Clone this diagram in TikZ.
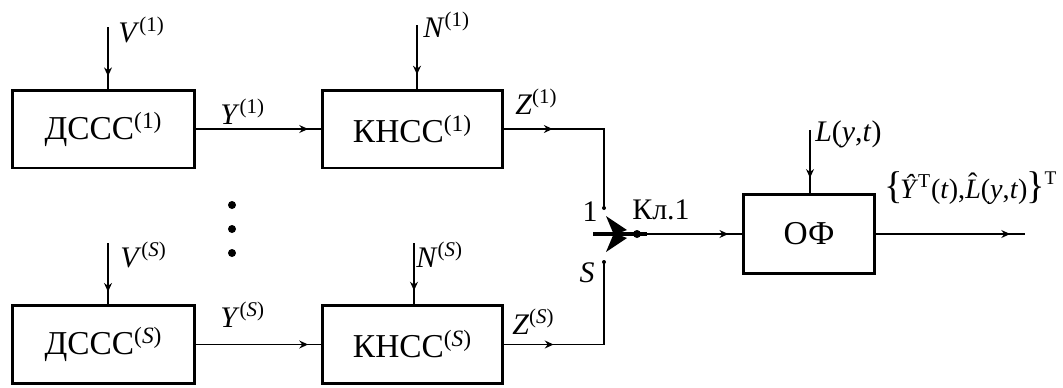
\documentclass[tikz,border=0pt]{standalone}
\usepackage{fontspec}
\setmainfont{Liberation Serif}
\usetikzlibrary{arrows.meta,decorations.markings}
\newcommand\capHat[1]{\textit{#1}\llap{\raisebox{0.2em}{ˆ}\kern0.12em}}
\begin{document}
\begin{tikzpicture}[x=0.02cm,y=-0.02cm,
  box/.style={draw,line width=1.7pt,inner sep=0pt,minimum width=#1,minimum height=1.56cm,font=\fontsize{19}{22}\selectfont},
  conn/.style={line width=0.9pt},
  arrowat/.style={postaction={decorate},decoration={markings,mark=at position #1 with {\arrow{Stealth[length=5pt,width=4.5pt]}}}},
  lbl/.style={inner sep=0pt,font=\fontsize{17}{20}\selectfont},
  dotc/.style={circle,fill,inner sep=0pt,minimum size=0.08cm},
  bigdot/.style={circle,fill,inner sep=0pt,minimum size=0.16cm}]
\useasboundingbox (0,0) rectangle (1063,387);

% blocks
\node[box=3.66cm] (d1) at (103.5,129) {ДССС\textsuperscript{(1)}};
\node[box=3.62cm] (k1) at (412.5,129) {КНСС\textsuperscript{(1)}};
\node[box=3.66cm] (d2) at (103.5,344.5) {ДССС\textsuperscript{(\textit{S})}};
\node[box=3.62cm] (k2) at (412.5,344.5) {КНСС\textsuperscript{(\textit{S})}};
\node[box=2.64cm,minimum height=1.58cm] (of) at (809,234) {ОФ};

% inputs
\coordinate (v1) at (108,27);
\coordinate (n1) at (417,25);
\coordinate (v2) at (108,243);
\coordinate (n2) at (414,243);
\coordinate (lin) at (810,130);
\draw[conn,arrowat=0.8] (v1) -- (v1 |- d1.north);
\draw[conn,arrowat=0.78] (n1) -- (n1 |- k1.north);
\draw[conn,arrowat=0.8] (v2) -- (v2 |- d2.north);
\draw[conn,arrowat=0.78] (n2) -- (n2 |- k2.north);
\draw[conn,arrowat=0.76] (lin) -- (lin |- of.north);

% chain
\draw[conn,arrowat=0.9] (d1.east) -- (k1.west);
\draw[conn,arrowat=0.9] (d2.east) -- (k2.west);

% switch
\coordinate (c1) at (604,208);
\coordinate (cS) at (604,262);
\coordinate (bl) at (593,234);
\coordinate (br) at (647,234);
\draw[conn,arrowat=0.27] (k1.east) -| (c1);
\draw[conn,arrowat=0.27] (k2.east) -| (cS);
\node[dotc] (c1d) at (c1) {};
\node[dotc] (cSd) at (cS) {};
\draw[line width=2.2pt] (bl) -- (br);
\node[bigdot] (piv) at (637,234) {};
\fill (606,216) -- (627,230) -- (614,235) -- cycle;
\fill (606,252) -- (627,238) -- (614,233) -- cycle;
\draw[conn,arrowat=0.86] (br) -- (of.west);

% output
\coordinate (out) at (1025,234);
\draw[conn,arrowat=0.9] (of.east) -- (out);

% vertical dots
\node[bigdot] (p1) at (232,205) {};
\node[bigdot] (p2) at (232,229) {};
\node[bigdot] (p3) at (232,253) {};

% labels
\node[lbl,anchor=west] (lv1) at (118,30) {\textit{V}\textsuperscript{(1)}};
\node[lbl,anchor=west] (ln1) at (423,25) {\textit{N}\textsuperscript{(1)}};
\node[lbl,anchor=west] (ly1) at (220,112) {\textit{Y}\textsuperscript{(1)}};
\node[lbl,anchor=west] (lz1) at (515,102) {\textit{Z}\textsuperscript{(1)}};
\node[lbl,anchor=west] (lv2) at (120,255) {\textit{V}\textsuperscript{(\textit{S})}};
\node[lbl,anchor=west] (ln2) at (416,255) {\textit{N}\textsuperscript{(\textit{S})}};
\node[lbl,anchor=west] (ly2) at (220,315) {\textit{Y}\textsuperscript{(\textit{S})}};
\node[lbl,anchor=west] (lz2) at (512,322) {\textit{Z}\textsuperscript{(\textit{S})}};
\node[lbl] (l1) at (590,212) {1};
\node[lbl] (lS) at (587,273) {\textit{S}};
\node[lbl] (lkl) at (661,210) {Кл.1};
\node[lbl,anchor=west] (lL) at (815,134) {\textit{L}(\textit{y},\textit{t})};
\node[lbl,anchor=west,font=\fontsize{16}{19}\selectfont] (lout) at (884,188) {{\fontsize{22}{22}\selectfont\{}\kern-0.1em\textit{Ŷ}\textsuperscript{T}(\textit{t}),\capHat{L}(\textit{y},\textit{t})\kern-0.05em{\fontsize{22}{22}\selectfont\}}\raisebox{1.1ex}{\fontsize{11}{11}\selectfont T}};
\end{tikzpicture}
\end{document}
